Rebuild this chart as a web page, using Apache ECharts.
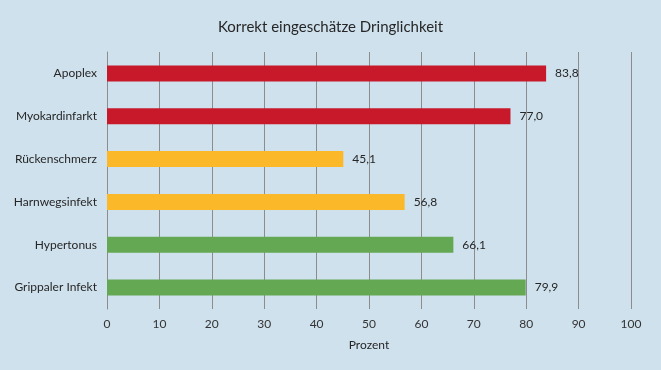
<!DOCTYPE html>
<html><head><meta charset="utf-8">
<script src="https://cdn.jsdelivr.net/npm/echarts@6/dist/echarts.min.js"></script>
<style>html,body{margin:0;padding:0;background:#cfe1ed}#c{width:661px;height:370px}</style>
</head><body><div id="c"></div>
<script>
const categories = ["Apoplex","Myokardinfarkt","Rückenschmerz","Harnwegsinfekt","Hypertonus","Grippaler Infekt"];
const values = [83.8, 77.0, 45.1, 56.8, 66.1, 79.9];
const barColors = ["#c8192a","#c8192a","#fbb829","#fbb829","#64a853","#64a853"];
const xTicks = [0,10,20,30,40,50,60,70,80,90,100];
const FONT = "Lato";
const chart = echarts.init(document.getElementById('c'));
chart.setOption({
  backgroundColor: '#cfe1ed',
  animation: false,
  title: { text: 'Korrekt eingeschätze Dringlichkeit', left: 'center', top: 15,
    textStyle: { fontFamily: FONT, fontSize: 15, fontWeight: 'normal', color: '#262626' } },
  grid: { left: 107, right: 30, top: 52, bottom: 61 },
  xAxis: { type: 'value', min: 0, max: 100, interval: 10,
    name: 'Prozent', nameLocation: 'middle', nameGap: 30,
    nameTextStyle: { fontFamily: FONT, fontSize: 12, color: '#262626' },
    axisLine: { show: false },
    axisTick: { show: false },
    splitLine: { show: true, lineStyle: { color: '#8c8c8c', width: 1 } },
    axisLabel: { fontFamily: FONT, fontSize: 12, color: '#333333', margin: 9,
      formatter: v => xTicks.includes(v) ? String(v) : '' } },
  yAxis: { type: 'category', data: categories, inverse: true,
    axisLine: { show: true, lineStyle: { color: '#8c8c8c' } },
    axisTick: { show: false },
    axisLabel: { fontFamily: FONT, fontSize: 12, color: '#262626', margin: 10 } },
  series: [{ type: 'bar', barWidth: 16,
    data: values.map((v, i) => ({ value: v, itemStyle: { color: barColors[i] } })),
    label: { show: true, position: 'right', distance: 9, fontFamily: FONT, fontSize: 12, color: '#262626',
      formatter: p => p.value.toFixed(1).replace('.', ',') } }]
});
</script></body></html>
